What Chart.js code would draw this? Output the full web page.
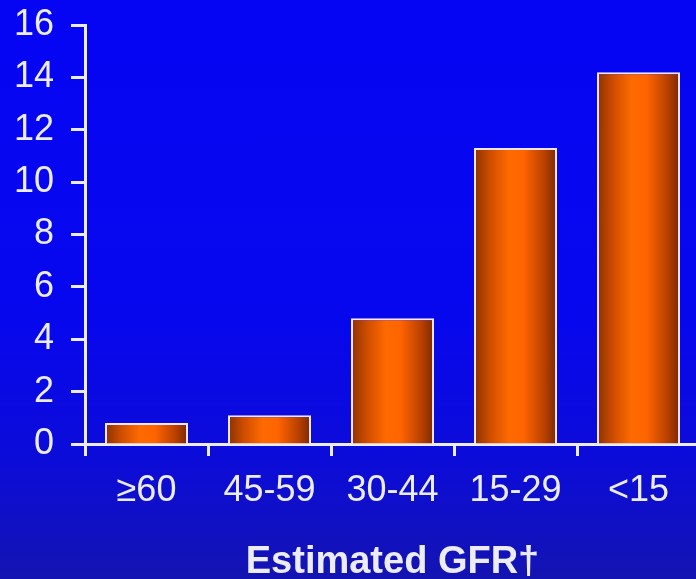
<!DOCTYPE html>
<html>
<head>
<meta charset="utf-8">
<script src="https://cdn.jsdelivr.net/npm/chart.js@4/dist/chart.umd.min.js"></script>
<style>
  html, body { margin: 0; padding: 0; overflow: hidden; }
  body {
    width: 696px; height: 579px;
    background: linear-gradient(to bottom, #0505f4 0%, #0707ee 55%, #0c0cd8 80%, #1414b2 100%);
  }
  #wrap { width: 700px; height: 579px; }
</style>
</head>
<body>
<div id="wrap"><canvas id="c" width="700" height="579"></canvas></div>
<script>
const categories = ['≥60', '45-59', '30-44', '15-29', '<15'];
const values = [0.8, 1.1, 4.8, 11.3, 14.2];
const yTicks = [0, 2, 4, 6, 8, 10, 12, 14, 16];
const axisTitle = 'Estimated GFR†';

const ink = '#ececf6';
const BAR_PCT = 0.675;

// Horizontal shading across each bar: dark rims, bright orange core
function barFill(ctx) {
  const chart = ctx.chart;
  const x = chart.scales && chart.scales.x;
  if (!x || ctx.dataIndex === undefined) return '#ff6600';
  const center = x.getPixelForValue(ctx.dataIndex);
  const half = (x.width / categories.length) * BAR_PCT / 2;
  if (!isFinite(center) || !isFinite(half) || half <= 0) return '#ff6600';
  const g = chart.ctx.createLinearGradient(center - half, 0, center + half, 0);
  g.addColorStop(0, '#8a3200');
  g.addColorStop(0.2, '#d04e00');
  g.addColorStop(0.42, '#ff6a00');
  g.addColorStop(0.6, '#ff6400');
  g.addColorStop(0.85, '#b84000');
  g.addColorStop(1, '#7a2800');
  return g;
}

new Chart(document.getElementById('c'), {
  type: 'bar',
  data: {
    labels: categories,
    datasets: [{
      data: values,
      backgroundColor: barFill,
      borderColor: '#f2e6f2',
      borderWidth: 2,
      borderSkipped: 'start',
      barPercentage: BAR_PCT,
      categoryPercentage: 1
    }]
  },
  options: {
    responsive: false,
    animation: false,
    layout: { padding: { top: 25, left: 0, right: 0, bottom: 0 } },
    plugins: { legend: { display: false }, tooltip: { enabled: false } },
    scales: {
      y: {
        min: 0, max: 16,
        afterBuildTicks: s => { s.ticks = yTicks.map(v => ({ value: v })); },
        afterFit: s => { s.width = 85; s.paddingTop = 0; s.paddingBottom = 0; },
        border: { display: true, color: ink, width: 3 },
        grid: { drawOnChartArea: false, drawTicks: true, tickLength: 14, tickWidth: 3, tickColor: ink },
        ticks: {
          color: ink, padding: 17,
          font: { family: '"Liberation Sans", Arial, sans-serif', size: 36 }
        }
      },
      x: {
        afterFit: s => { s.height = 135; },
        border: { display: true, color: ink, width: 3 },
        grid: { offset: true, drawOnChartArea: false, drawTicks: true, tickLength: 12, tickWidth: 3, tickColor: ink },
        ticks: {
          color: ink, padding: 13,
          font: { family: '"Liberation Sans", Arial, sans-serif', size: 36 }
        },
        title: {
          display: true, text: axisTitle, color: ink,
          padding: { top: 0, bottom: -3 },
          font: { family: '"Liberation Sans", Arial, sans-serif', size: 38, weight: 'bold', lineHeight: 1 }
        }
      }
    }
  }
});
</script>
</body>
</html>
